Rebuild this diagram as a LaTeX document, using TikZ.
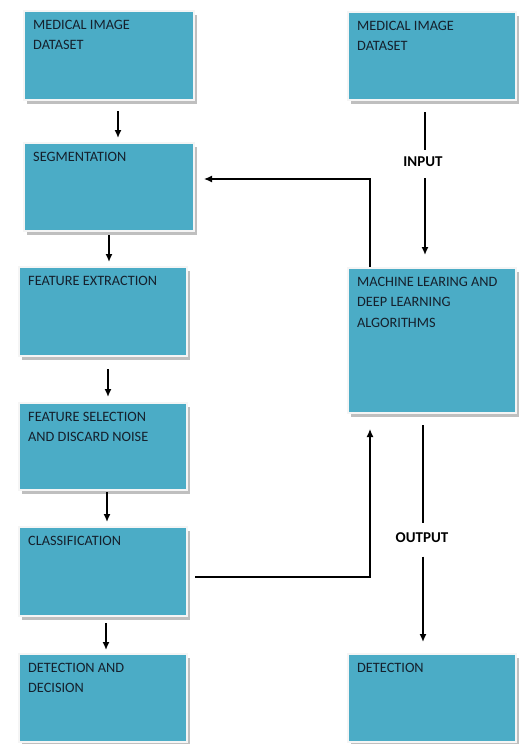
\documentclass[tikz,border=0pt]{standalone}
\usepackage{fontspec}
\setmainfont{Carlito}
\usetikzlibrary{arrows.meta,shadows}
\definecolor{boxblue}{HTML}{4BACC6}
\definecolor{txtc}{HTML}{15202C}
\begin{document}
\begin{tikzpicture}[x=1pt,y=-1pt,
 box/.style={draw=white!92!gray, line width=2pt, fill=boxblue, anchor=north west, inner sep=0pt,
   drop shadow={shadow xshift=2.5pt, shadow yshift=-4pt, fill=gray!50, opacity=1}},
 txt/.style={anchor=north west, inner sep=0pt, align=left, text=txtc, font=\fontsize{14.3}{20.5}\selectfont},
 lbl/.style={inner sep=0pt, font=\bfseries\fontsize{15}{18}\selectfont, text=black},
 arr/.style={line width=1.5pt, -{Latex[length=8pt,width=7pt]}},
 ln/.style={line width=1.5pt}]
\useasboundingbox (0,0) rectangle (519,744);
% left column
\node[box, minimum width=170pt, minimum height=89pt] (b1) at (23,10) {};
\node[box, minimum width=170pt, minimum height=88pt] (b2) at (23,142) {};
\node[box, minimum width=168pt, minimum height=89pt] (b3) at (18,266) {};
\node[box, minimum width=168pt, minimum height=87pt] (b4) at (18,402) {};
\node[box, minimum width=168pt, minimum height=89pt] (b5) at (18,526) {};
\node[box, minimum width=168pt, minimum height=88pt] (b6) at (18,653) {};
% right column
\node[box, minimum width=168pt, minimum height=88pt] (r1) at (347,11) {};
\node[box, minimum width=168pt, minimum height=145pt] (ml) at (347,267) {};
\node[box, minimum width=168pt, minimum height=88pt] (r3) at (347,653) {};
% texts
\node[txt] (t1) at ([shift={(10pt,-10pt)}]b1.north west) {MEDICAL IMAGE\\DATASET};
\node[txt] (t2) at ([shift={(10pt,-10pt)}]b2.north west) {SEGMENTATION};
\node[txt] (t3) at ([shift={(10pt,-10pt)}]b3.north west) {FEATURE EXTRACTION};
\node[txt] (t4) at ([shift={(10pt,-10pt)}]b4.north west) {FEATURE SELECTION\\AND DISCARD NOISE};
\node[txt] (t5) at ([shift={(10pt,-10pt)}]b5.north west) {CLASSIFICATION};
\node[txt] (t6) at ([shift={(10pt,-10pt)}]b6.north west) {DETECTION AND\\DECISION};
\node[txt] (t7) at ([shift={(10pt,-10pt)}]r1.north west) {MEDICAL IMAGE\\DATASET};
\node[txt] (t8) at ([shift={(10pt,-10pt)}]ml.north west) {MACHINE LEARING AND\\DEEP LEARNING\\ALGORITHMS};
\node[txt] (t9) at ([shift={(10pt,-10pt)}]r3.north west) {DETECTION};
% labels
\node[lbl] (inp) at (423,162) {INPUT};
\node[lbl] (outp) at (422,537.5) {OUTPUT};
% left arrows
\draw[arr, shorten <=10pt, shorten >=4pt] ([xshift=9pt]b1.south) -- ([xshift=9pt]b2.north);
\draw[arr, shorten <=3pt, shorten >=4pt] (b2.south) -- (b2.south |- b3.north);
\draw[arr, shorten <=12pt, shorten >=5pt] ([xshift=5pt]b3.south) -- ([xshift=5pt]b4.north);
\draw[arr, shorten <=1pt, shorten >=4pt] ([xshift=4pt]b4.south) -- ([xshift=4pt]b5.north);
\draw[arr, shorten <=6pt, shorten >=3pt] ([xshift=3pt]b5.south) -- ([xshift=3pt]b6.north);
% input
\coordinate (ix) at ([xshift=-7pt]r1.south);
\draw[ln, line width=1.1pt, shorten <=11pt, shorten >=7pt] (ix) -- (ix |- inp.north);
\draw[arr, shorten <=11pt, shorten >=12pt] (ix |- inp.south) -- (ix |- ml.north);
% feedback
\coordinate (fbx) at ([xshift=23pt]ml.north west);
\coordinate (fby) at (0,179);
\draw[arr, line width=1.2pt, shorten >=9pt] (fbx) |- (fby -| b2.east);
\draw[arr, line width=1.2pt, shorten <=7pt, shorten >=15pt] ([yshift=-5.5pt]b5.east) -| (fbx |- ml.south);
% output
\coordinate (ox) at ([xshift=-9pt]ml.south);
\draw[ln, line width=1.1pt, shorten <=11pt, shorten >=9pt] (ox) -- (ox |- outp.north);
\draw[arr, shorten <=14pt, shorten >=11pt] (ox |- outp.south) -- (ox |- r3.north);
\end{tikzpicture}
\end{document}
